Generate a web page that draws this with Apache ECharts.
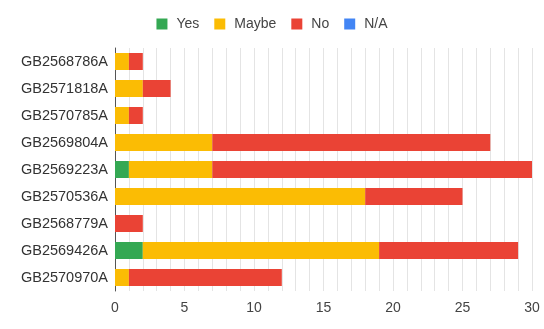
<!DOCTYPE html>
<html><head><meta charset="utf-8">
<script src="https://cdn.jsdelivr.net/npm/echarts@6/dist/echarts.min.js"></script>
<style>html,body{margin:0;padding:0;background:#fff}#c{width:544px;height:329px}</style>
</head><body><div id="c"></div>
<script>
const categories = ['GB2568786A','GB2571818A','GB2570785A','GB2569804A','GB2569223A','GB2570536A','GB2568779A','GB2569426A','GB2570970A'];
const yesValues   = [0, 0, 0, 0, 1, 0, 0, 2, 0];
const maybeValues = [1, 2, 1, 7, 6, 18, 0, 17, 1];
const noValues    = [1, 2, 1, 20, 23, 7, 2, 10, 11];
const naValues    = [0, 0, 0, 0, 0, 0, 0, 0, 0];
const seriesNames = ['Yes','Maybe','No','N/A'];
const colors = ['#34a853','#fbbc04','#ea4335','#4285f4'];
const xTicks = [0,5,10,15,20,25,30];

const chart = echarts.init(document.getElementById('c'), null, {renderer:'canvas'});
const font = 'Arial, "Liberation Sans", sans-serif';
const mk = (name, data, i) => ({
  name, type:'bar', stack:'total', data, barCategoryGap:'37%',
  itemStyle:{color:colors[i]}
});
chart.setOption({
  animation:false,
  textStyle:{fontFamily:font},
  legend:{
    top:12, left:'center', itemWidth:11, itemHeight:11, itemGap:15, icon:'rect',
    data:seriesNames,
    textStyle:{fontSize:14, color:'#444', fontFamily:font, padding:[0,0,0,4]}
  },
  grid:{left:115, right:12, top:48, bottom:38},
  xAxis:{
    type:'value', min:xTicks[0], max:xTicks[xTicks.length-1], interval:5,
    axisLine:{show:false}, axisTick:{show:false},
    axisLabel:{fontSize:14, color:'#444', margin:10, fontFamily:font},
    splitLine:{show:true, lineStyle:{color:'#e4e4e4', width:1}},
    minorTick:{show:false, splitNumber:5},
    minorSplitLine:{show:true, lineStyle:{color:'#e4e4e4', width:1}}
  },
  yAxis:{
    type:'category', data:categories, inverse:true,
    axisLine:{show:true, lineStyle:{color:'#555', width:1}},
    axisTick:{show:false},
    axisLabel:{fontSize:14.5, color:'#333', margin:7, fontFamily:font}
  },
  series:[
    mk(seriesNames[0], yesValues, 0),
    mk(seriesNames[1], maybeValues, 1),
    mk(seriesNames[2], noValues, 2),
    mk(seriesNames[3], naValues, 3)
  ]
});
</script></body></html>
